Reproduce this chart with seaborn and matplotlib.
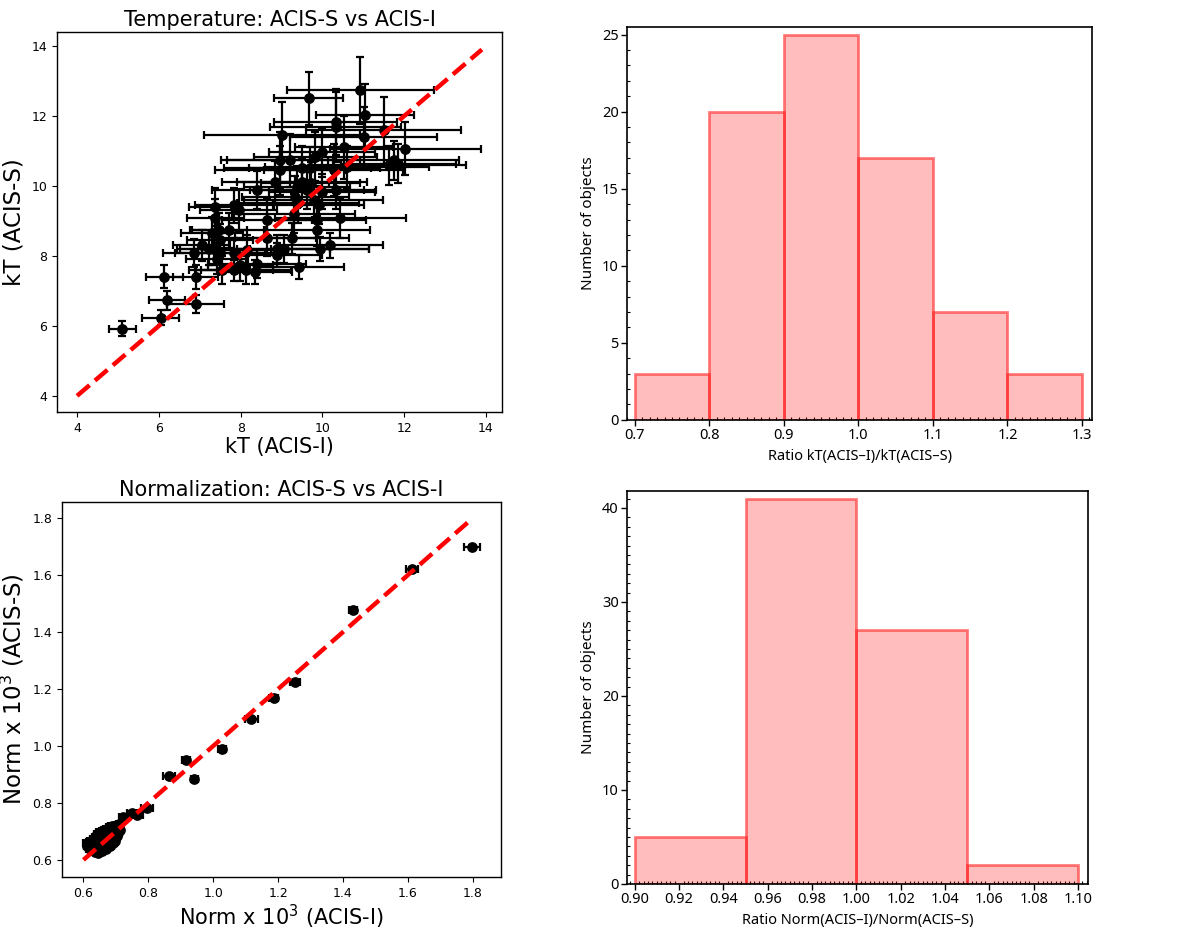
import numpy as np
import matplotlib
matplotlib.use("Agg")
import matplotlib.pyplot as plt
from matplotlib.ticker import MultipleLocator
import seaborn as sns

# temperature fits (keV), ACIS-I vs ACIS-S
kT_I = [5.10, 6.05, 6.20, 6.13, 6.90, 6.90, 6.85, 7.38, 7.38, 7.46,
        7.34, 7.22, 7.50, 7.42, 7.71, 7.83, 7.95, 8.40, 8.65, 8.65,
        8.16, 7.99, 8.12, 8.40, 8.36, 7.83, 8.89, 8.89, 9.05, 9.26,
        9.42, 9.95, 10.19, 9.87, 9.87, 10.44, 9.91, 9.34, 9.38, 9.62,
        9.99, 10.32, 9.50, 9.71, 8.97, 9.21, 8.97, 9.83, 9.50, 10.52,
        10.28, 9.01, 10.32, 10.32, 9.66, 10.93, 11.05, 11.01, 11.50, 12.03,
        11.74, 11.86, 11.62, 10.60, 9.99, 9.79, 7.50, 7.54, 7.05, 7.83,
        7.30, 9.40, 9.30, 9.70, 8.85]
kT_I_err = [0.33, 0.45, 0.45, 0.45, 0.55, 0.70, 0.75, 0.65, 0.70, 0.70,
            0.90, 0.70, 1.10, 0.75, 0.90, 0.95, 0.95, 1.10, 1.10, 1.20,
            1.00, 0.80, 1.10, 1.20, 0.90, 0.95, 1.30, 1.10, 2.10, 1.40,
            1.10, 1.20, 1.30, 1.30, 1.20, 1.60, 1.10, 1.30, 1.30, 1.40,
            1.30, 1.00, 1.60, 1.20, 1.60, 1.70, 1.30, 1.50, 1.90, 1.20,
            1.70, 1.90, 1.50, 1.60, 0.85, 1.80, 1.20, 1.80, 1.90, 1.85,
            1.60, 1.40, 1.90, 2.00, 1.30, 1.70, 0.80, 0.80, 0.70, 1.00,
            0.75, 1.50, 1.50, 1.50, 1.30]
kT_S = [5.92, 6.24, 6.73, 7.40, 7.40, 6.62, 8.07, 9.40, 9.07, 8.73,
        8.20, 8.20, 8.07, 7.92, 8.73, 9.45, 9.30, 9.88, 9.02, 8.50,
        8.16, 7.73, 7.59, 7.78, 7.54, 7.59, 8.20, 8.02, 8.20, 8.50,
        7.69, 8.20, 8.30, 8.73, 9.02, 9.07, 9.45, 9.69, 9.97, 9.88,
        9.83, 9.88, 10.11, 10.08, 10.45, 10.73, 10.73, 10.83, 10.50, 11.11,
        10.45, 11.45, 11.83, 11.69, 12.50, 12.73, 12.02, 11.40, 11.59, 11.07,
        10.73, 10.64, 10.59, 10.54, 10.97, 9.59, 8.45, 7.59, 8.30, 8.07,
        8.65, 9.50, 9.21, 10.50, 10.10]
kT_S_err = [0.22, 0.22, 0.28, 0.33, 0.35, 0.25, 0.40, 0.55, 0.55, 0.50,
            0.45, 0.45, 0.45, 0.45, 0.50, 0.50, 0.60, 0.55, 0.60, 0.50,
            0.45, 0.45, 0.40, 0.40, 0.35, 0.30, 0.40, 0.35, 0.40, 0.45,
            0.35, 0.35, 0.35, 0.45, 0.50, 0.55, 0.55, 0.60, 0.60, 0.55,
            0.50, 0.55, 0.65, 0.60, 0.70, 0.75, 0.80, 0.70, 0.65, 0.90,
            0.75, 0.95, 0.95, 1.00, 0.75, 0.95, 0.90, 0.85, 0.95, 0.75,
            0.55, 0.55, 0.55, 0.60, 0.70, 0.55, 0.45, 0.40, 0.45, 0.45,
            0.45, 0.55, 0.55, 0.60, 0.60]

# normalizations (x 10^3)
norm_I = [1.797, 1.612, 1.432, 1.252, 1.186, 1.117, 1.028, 0.916, 0.864, 0.942,
          0.795, 0.764, 0.749, 0.721,
          0.610, 0.612, 0.615, 0.618, 0.620, 0.622, 0.625, 0.628, 0.630, 0.632,
          0.635, 0.636, 0.638, 0.640, 0.641, 0.643, 0.645, 0.646, 0.648, 0.650,
          0.651, 0.652, 0.654, 0.655, 0.656, 0.658, 0.660, 0.661, 0.662, 0.664,
          0.665, 0.666, 0.668, 0.670, 0.671, 0.672, 0.674, 0.675, 0.676, 0.678,
          0.680, 0.681, 0.682, 0.684, 0.685, 0.686, 0.688, 0.690, 0.691, 0.692,
          0.694, 0.695, 0.697, 0.699, 0.700, 0.702, 0.704, 0.706, 0.708, 0.710,
          0.712]
norm_I_err = [0.025, 0.018, 0.012, 0.015, 0.015, 0.020, 0.012, 0.012, 0.018, 0.010,
              0.018, 0.020, 0.015, 0.010] + [0.011] * 61
norm_S = [1.698, 1.622, 1.476, 1.226, 1.168, 1.094, 0.989, 0.951, 0.893, 0.883,
          0.781, 0.758, 0.764, 0.752,
          0.660, 0.648, 0.655, 0.662, 0.640, 0.668, 0.650, 0.635, 0.672, 0.645,
          0.660, 0.628, 0.680, 0.652, 0.640, 0.690, 0.665, 0.625, 0.675, 0.655,
          0.698, 0.640, 0.668, 0.682, 0.630, 0.660, 0.700, 0.648, 0.688, 0.672,
          0.655, 0.705, 0.640, 0.690, 0.668, 0.710, 0.652, 0.680, 0.695, 0.662,
          0.715, 0.675, 0.650, 0.700, 0.685, 0.665, 0.720, 0.690, 0.660, 0.705,
          0.678, 0.695, 0.668, 0.712, 0.700, 0.685, 0.722, 0.695, 0.710, 0.725,
          0.705]
norm_S_err = [0.006] * 14 + [0.007] * 61

# one-to-one reference lines
kT_line = [4.0, 13.9]
norm_line = [0.6, 1.8]

# ratio histograms
kT_ratio_edges = [0.7, 0.8, 0.9, 1.0, 1.1, 1.2, 1.3]
kT_ratio_counts = [3, 20, 25, 17, 7, 3]
norm_ratio_edges = [0.90, 0.95, 1.00, 1.05, 1.10]
norm_ratio_counts = [5, 41, 27, 2]

sns.set_style("ticks")
plt.rcParams["font.family"] = ["DejaVu Sans"]
plt.rcParams.update({"text.color": "black", "axes.labelcolor": "black",
                     "xtick.color": "black", "ytick.color": "black",
                     "axes.edgecolor": "black"})

fig = plt.figure(figsize=(12, 9.31), dpi=100)


def scatter_panel(ax, x, xerr, y, yerr, line, title, xlabel, ylabel):
    ax.errorbar(x, y, xerr=xerr, yerr=yerr, fmt="none", ecolor="black",
                elinewidth=1.6, capsize=3, capthick=1.6, zorder=2)
    sns.scatterplot(x=x, y=y, ax=ax, color="black", s=60, edgecolor="black",
                    linewidth=0, zorder=3)
    ax.plot(line, line, "r--", lw=3.2, zorder=4)
    ax.set_title(title, fontsize=15, pad=4, color="black")
    ax.set_xlabel(xlabel, fontsize=15, labelpad=2)
    ax.set_ylabel(ylabel, fontsize=16.5, labelpad=4)
    ax.tick_params(labelsize=9, length=3.5, width=0.8, color="black",
                   labelcolor="black")
    for s in ax.spines.values():
        s.set_linewidth(1.0)
        s.set_color("black")


ax1 = fig.add_axes([0.0475, 0.5575, 0.3708, 0.4081])
scatter_panel(ax1, kT_I, kT_I_err, kT_S, kT_S_err, kT_line,
              "Temperature: ACIS-S vs ACIS-I", "kT (ACIS-I)", "kT (ACIS-S)")
ax1.set_xlim(3.51, 14.39)
ax1.set_ylim(3.54, 14.4)
ax1.set_xticks([4, 6, 8, 10, 12, 14])
ax1.set_yticks([4, 6, 8, 10, 12, 14])

ax3 = fig.add_axes([0.0517, 0.058, 0.3658, 0.403])
scatter_panel(ax3, norm_I, norm_I_err, norm_S, norm_S_err, norm_line,
              "Normalization: ACIS-S vs ACIS-I",
              r"Norm x 10$^3$ (ACIS-I)", r"Norm x 10$^3$ (ACIS-S)")
ax3.set_xlim(0.534, 1.887)
ax3.set_ylim(0.54, 1.857)
ax3.set_xticks([0.6, 0.8, 1.0, 1.2, 1.4, 1.6, 1.8])
ax3.set_yticks([0.6, 0.8, 1.0, 1.2, 1.4, 1.6, 1.8])


def hist_panel(ax, edges, counts, xlabel, xminor, xfmt):
    centers = [(a + b) / 2 for a, b in zip(edges[:-1], edges[1:])]
    sns.histplot(x=centers, weights=counts, bins=edges, ax=ax)
    for p in ax.patches:
        p.set_alpha(None)
        p.set_facecolor((1.0, 0.0, 0.0, 0.26))
        p.set_edgecolor((1.0, 0.15, 0.15, 0.6))
        p.set_linewidth(2.0)
    fam = ["Noto Sans", "DejaVu Sans"]
    ax.set_xlabel(xlabel, fontsize=10.5, family=fam, color="black")
    ax.set_ylabel("Number of objects", fontsize=11, family=fam,
                  labelpad=4, color="black")
    ax.xaxis.set_minor_locator(MultipleLocator(xminor))
    ax.yaxis.set_minor_locator(MultipleLocator(1))
    ax.tick_params(which="major", direction="out", length=4, width=1,
                   labelsize=10.5, pad=2, labelcolor="black")
    ax.tick_params(which="minor", direction="in", length=2.5, width=0.8)
    ax.xaxis.set_major_formatter(plt.FormatStrFormatter(xfmt))
    for lab in ax.get_xticklabels() + ax.get_yticklabels():
        lab.set_family(fam)
    for s in ax.spines.values():
        s.set_linewidth(1.2)
        s.set_color("black")


ax2 = fig.add_axes([0.5225, 0.549, 0.3875, 0.4221])
hist_panel(ax2, kT_ratio_edges, kT_ratio_counts,
           "Ratio kT(ACIS\u2013I)/kT(ACIS\u2013S)", 0.01, "%.1f")
ax2.set_xlim(0.6897, 1.3134)
ax2.set_ylim(0, 25.5)
ax2.set_xticks([0.7, 0.8, 0.9, 1.0, 1.1, 1.2, 1.3])
ax2.set_yticks([0, 5, 10, 15, 20, 25])

ax4 = fig.add_axes([0.5225, 0.0505, 0.3842, 0.4221])
hist_panel(ax4, norm_ratio_edges, norm_ratio_counts,
           "Ratio Norm(ACIS\u2013I)/Norm(ACIS\u2013S)", 0.002, "%.2f")
ax4.set_xlim(0.8965, 1.1045)
ax4.set_ylim(0, 41.8)
ax4.set_xticks(np.arange(0.90, 1.101, 0.02))
ax4.set_yticks([0, 10, 20, 30, 40])

fig.savefig("out.png", dpi=100)
